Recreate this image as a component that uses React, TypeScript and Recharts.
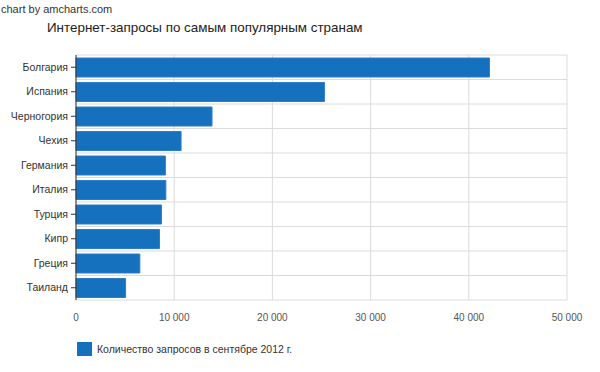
import { BarChart, Bar, XAxis, YAxis, CartesianGrid } from 'recharts';

const countries = [
  'Болгария',
  'Испания',
  'Черногория',
  'Чехия',
  'Германия',
  'Италия',
  'Турция',
  'Кипр',
  'Греция',
  'Таиланд',
];

const requests = [42100, 25300, 13850, 10700, 9100, 9150, 8700, 8500, 6500, 5050];

const xTicks = [0, 10000, 20000, 30000, 40000, 50000];

const TITLE = 'Интернет-запросы по самым популярным странам';
const SERIES_NAME = 'Количество запросов в сентябре 2012 г.';

const BAR_COLOR = '#1570be';
const FONT = '"Liberation Sans", Arial, sans-serif';

const chartData = countries.map((name, i) => ({ name, value: requests[i] }));

const formatThousands = (v: number) =>
  String(v).replace(/\B(?=(\d{3})+(?!\d))/g, ' ');

export default function App() {
  return (
    <div
      style={{
        position: 'absolute',
        left: 0,
        top: 0,
        width: 600,
        height: 372,
        background: '#fff',
        fontFamily: FONT,
      }}
    >
      <div style={{ position: 'absolute', left: 1, top: 3, fontSize: 11, color: '#333' }}>
        chart by amcharts.com
      </div>
      <div style={{ position: 'absolute', left: 47, top: 20, fontSize: 13.4, color: '#222' }}>
        {TITLE}
      </div>

      <div style={{ position: 'absolute', left: 0, top: 0 }}>
        <BarChart
          width={600}
          height={330}
          data={chartData}
          layout="vertical"
          margin={{ top: 55, right: 33, left: 0, bottom: 0 }}
          barSize={19}
        >
          <CartesianGrid
            stroke="#dcdcdc"
            horizontalCoordinatesGenerator={({ offset }: any) =>
              countries
                .map((_, i) => offset.top + (i * offset.height) / countries.length)
                .concat(offset.top + offset.height)
            }
          />
          <XAxis
            type="number"
            domain={[0, 50000]}
            ticks={xTicks}
            tickFormatter={formatThousands}
            axisLine={false}
            tickLine={false}
            tickMargin={8}
            height={30}
            tick={{ fontSize: 10, fill: '#555', fontFamily: FONT }}
          />
          <YAxis
            type="category"
            dataKey="name"
            width={76}
            axisLine={{ stroke: '#333' }}
            tickLine={{ stroke: '#333' }}
            tickSize={5}
            tickMargin={3}
            tick={{ fontSize: 10.5, fill: '#333', fontFamily: FONT }}
          />
          <Bar
            dataKey="value"
            name={SERIES_NAME}
            fill={BAR_COLOR}
            stroke="#2a7fc8"
            isAnimationActive={false}
          />
        </BarChart>
      </div>

      <div
        style={{
          position: 'absolute',
          left: 77,
          top: 342,
          display: 'flex',
          alignItems: 'center',
          fontSize: 10.5,
          color: '#333',
        }}
      >
        <span
          style={{
            display: 'inline-block',
            width: 15,
            height: 14,
            background: BAR_COLOR,
            marginRight: 5,
          }}
        />
        {SERIES_NAME}
      </div>
    </div>
  );
}
